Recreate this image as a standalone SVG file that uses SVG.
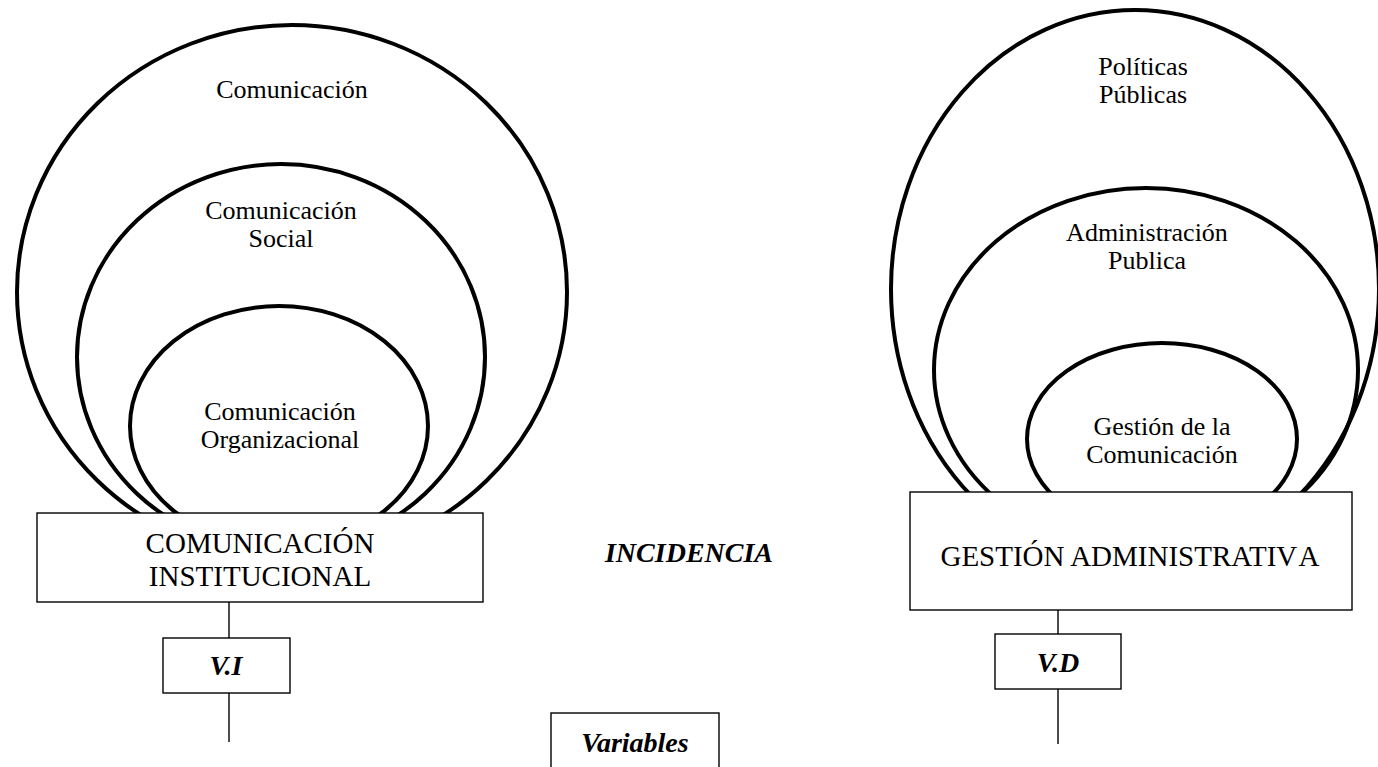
<svg xmlns="http://www.w3.org/2000/svg" width="1378" height="767" viewBox="0 0 1378 767">
<style>
.ring{fill:none;stroke:#000;stroke-width:4}
.box{fill:#fff;stroke:#000;stroke-width:1.4}
.ln{stroke:#000;stroke-width:1.4;fill:none}
.lbl{font-family:"Liberation Serif","Times New Roman",serif;font-size:26px;fill:#000;text-anchor:middle}
.big{font-family:"Liberation Serif","Times New Roman",serif;font-size:29px;fill:#000;text-anchor:middle}
.bi{font-family:"Liberation Serif","Times New Roman",serif;font-size:28px;font-weight:bold;font-style:italic;fill:#000;text-anchor:middle}
</style>
<rect width="1378" height="767" fill="#fff"/>
<g id="connectors">
<line class="ln" x1="229" y1="602" x2="229" y2="638"/>
<line class="ln" x1="229" y1="693" x2="229" y2="742"/>
<line class="ln" x1="1058" y1="610" x2="1058" y2="634"/>
<line class="ln" x1="1058" y1="689" x2="1058" y2="744"/>
</g>
<g id="left-rings">
<g id="ring-comunicacion">
<ellipse class="ring" cx="292" cy="292" rx="275" ry="267"/>
<text class="lbl" x="292" y="98">Comunicación</text>
</g>
<g id="ring-social">
<ellipse class="ring" cx="281" cy="357" rx="204" ry="193"/>
<text class="lbl" x="281" y="219">Comunicación</text>
<text class="lbl" x="281" y="247">Social</text>
</g>
<g id="ring-organizacional">
<ellipse class="ring" cx="279" cy="426" rx="149" ry="120"/>
<text class="lbl" x="280" y="420">Comunicación</text>
<text class="lbl" x="280" y="448">Organizacional</text>
</g>
</g>
<g id="right-rings">
<g id="ring-politicas">
<ellipse class="ring" cx="1135" cy="289" rx="244" ry="279"/>
<text class="lbl" x="1143" y="75">Políticas</text>
<text class="lbl" x="1143" y="103">Públicas</text>
</g>
<g id="ring-administracion">
<ellipse class="ring" cx="1146" cy="370" rx="212" ry="182"/>
<text class="lbl" x="1147" y="241">Administración</text>
<text class="lbl" x="1147" y="269">Publica</text>
</g>
<g id="ring-gestion">
<ellipse class="ring" cx="1162" cy="439" rx="135" ry="96"/>
<text class="lbl" x="1162" y="435">Gestión de la</text>
<text class="lbl" x="1162" y="463">Comunicación</text>
</g>
</g>
<g id="node-ci">
<rect class="box" x="37" y="513" width="446" height="89"/>
<text class="big" x="260" y="553">COMUNICACIÓN</text>
<text class="big" x="260" y="586">INSTITUCIONAL</text>
</g>
<g id="node-ga">
<rect class="box" x="910" y="492" width="442" height="118"/>
<text class="big" x="1130" y="566">GESTIÓN ADMINISTRATIV<tspan dx="5">A</tspan></text>
</g>
<g id="node-vi">
<rect class="box" x="163" y="638" width="127" height="55"/>
<text class="bi" x="226" y="675">V.I</text>
</g>
<g id="node-vd">
<rect class="box" x="995" y="634" width="126" height="55"/>
<text class="bi" x="1058" y="672">V.D</text>
</g>
<g id="incidencia">
<text class="bi" x="689" y="562">INCIDENCIA</text>
</g>
<g id="node-variables">
<rect class="box" x="551" y="713" width="168" height="70"/>
<text class="bi" x="635" y="752">Variables</text>
</g>
</svg>
